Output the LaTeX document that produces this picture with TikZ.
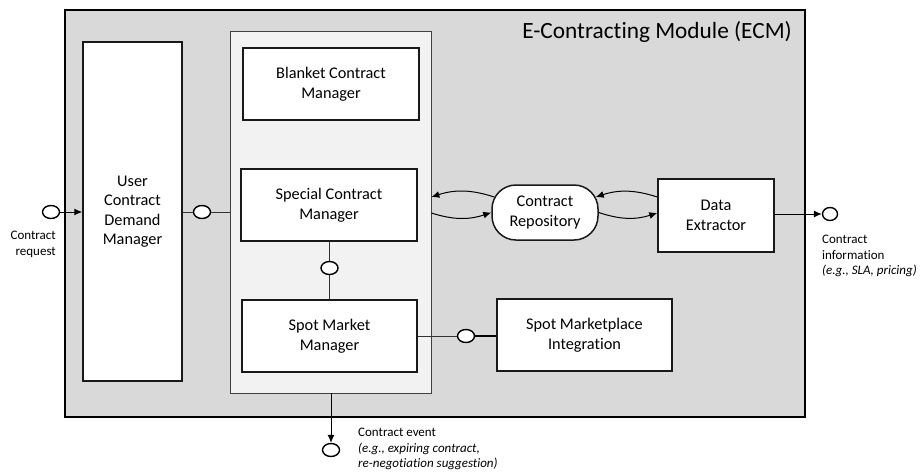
\documentclass[tikz,border=0pt]{standalone}
\usepackage{fontspec}
\setmainfont{Carlito}[Ligatures=NoCommon]
\usetikzlibrary{arrows.meta,positioning,shapes.geometric,fit}

\begin{document}
\begin{tikzpicture}[
  x=1pt, y=-1pt,
  font=\fontsize{16.3}{19.5}\selectfont,
  >={Latex[length=8pt,width=7pt]},
  module/.style={
    draw=black,
    line width=1.6pt,
    fill=black!15,
    inner sep=0pt
  },
  group/.style={
    draw=black!75,
    line width=0.8pt,
    fill=black!5,
    inner sep=0pt
  },
  component/.style={
    draw=black!90,
    line width=1.5pt,
    fill=white,
    align=center,
    inner sep=0pt
  },
  port/.style={
    ellipse,
    draw=black,
    line width=1.4pt,
    fill=white,
    minimum width=17pt,
    minimum height=13pt,
    inner sep=0pt
  },
  note/.style={
    font=\fontsize{13}{15.5}\selectfont,
    inner sep=0pt
  },
  link/.style={line width=0.9pt,draw=black!80},
  flow/.style={->,line width=1pt,draw=black}
]
  \useasboundingbox (0,0) rectangle (920,475);

  % Module boundary and the grouped contract managers.
  \node[module,minimum width=740pt,minimum height=407pt] (ecm) at (435,213.5) {};
  \node[font=\fontsize{23.3}{27}\selectfont,anchor=east,inner sep=0pt] (ecmtitle) at (792,32) {E-Contracting Module (ECM)};
  \node[group,minimum width=201pt,minimum height=362pt] (mgrgroup) at (330.5,212) {};

  \node[component,minimum width=99pt,minimum height=339pt] (demand) at (132.5,211.5) {
    User\\Contract\\Demand\\Manager
  };
  \node[component,minimum width=176pt,minimum height=72pt] (blanket) at (331,84) {
    Blanket Contract\\Manager
  };
  \node[component,minimum width=176pt,minimum height=72pt] (special) at (329,205) {
    Special Contract\\Manager
  };
  \node[component,minimum width=175pt,minimum height=72pt] (spot) at (329.5,336) {
    Spot Market\\Manager
  };
  \node[component,minimum width=175pt,minimum height=72pt] (spotint) at (584.5,335) {
    Spot Marketplace\\Integration
  };
  \node[component,rounded corners=24pt,minimum width=106pt,minimum height=55pt] (repo) at (545,212.5) {
    Contract\\Repository
  };
  \node[component,minimum width=116pt,minimum height=73pt] (extractor) at (716,215.5) {
    Data\\Extractor
  };

  % Interface ports.
  \node[port] (reqport) at (51,212) {};
  \node[port] (demandport) at (202,212) {};
  \node[port] (specialport) at (329.5,268) {};
  \node[port] (spotport) at (466,336) {};
  \node[port] (eventport) at (331,450) {};
  \node[port,minimum width=15pt] (infoport) at (830,214) {};

  \draw[flow] (reqport) -- (reqport -| demand.west);
  \draw[link] (demand.east |- demandport) -- (demandport);
  \draw[link] (demandport) -- (demandport -| mgrgroup.west);
  \draw[link] (special.south -| specialport) -- (specialport);
  \draw[link] (specialport) -- (spot.north -| specialport);
  \draw[link] (spot.east |- spotport) -- (spotport);
  \draw[line width=2pt] (spotport) -- (spotint.west |- spotport);
  \draw[flow] (mgrgroup.south -| eventport) -- (eventport);
  \draw[flow] (extractor.east |- infoport) -- (infoport);

  % Exchange with the repository.
  \draw[flow] ([xshift=3pt,yshift=15.5pt]repo.west) to[bend right=18] ([yshift=15pt]mgrgroup.east);
  \draw[flow] ([yshift=-1pt]mgrgroup.east) to[bend right=18] (repo.west);
  \draw[flow] ([yshift=18.5pt]extractor.west) to[bend right=18] ([xshift=-3pt,yshift=15.5pt]repo.east);
  \draw[flow] (repo.east) to[bend right=18] ([yshift=2.5pt]extractor.west);

  % Port labels.
  \node[note,anchor=north east,align=right] (reqlabel) at (56,231) {Contract\\request};
  \node[note,anchor=north west,align=left] (eventlabel) at (358,428) {
    Contract event\\\textit{(e.g., expiring contract,}\\\textit{re-negotiation suggestion)}
  };
  \node[note,anchor=north west,align=left] (infolabel) at (822,235) {
    Contract\\information\\\textit{(e.g., SLA, pricing)}
  };
\end{tikzpicture}
\end{document}
